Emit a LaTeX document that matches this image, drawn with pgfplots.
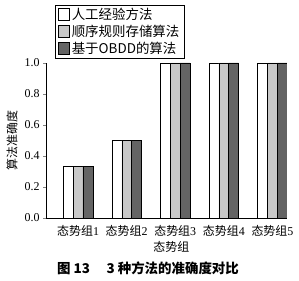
\documentclass[border=0pt]{standalone}
\usepackage{pgfplots}
\pgfplotsset{compat=1.18}
\usepackage{fontspec}
\setmainfont{Liberation Serif}
\newfontfamily\cjk{Noto Sans CJK SC}
\definecolor{lgray}{RGB}{200,200,200}
\definecolor{dgray}{RGB}{100,100,100}
\begin{document}
\begin{tikzpicture}
\useasboundingbox (-46bp,-63bp) rectangle (253bp,218bp);
\begin{axis}[
  at={(0,0)}, anchor=south west,
  scale only axis, width=241bp, height=155bp,
  ybar=0pt, bar width=9.8bp,
  xmin=-0.66, xmax=4.3, ymin=0, ymax=1.0,
  axis x line=bottom, axis y line=left,
  axis line style={-, line width=0.6pt},
  xtick=data, xticklabels={{\cjk 态势组}1,{\cjk 态势组}2,{\cjk 态势组}3,{\cjk 态势组}4,{\cjk 态势组}5},
  x tick style={draw=none},
  ytick={0,0.2,0.4,0.6,0.8,1.0},
  yticklabel style={/pgf/number format/.cd, fixed, fixed zerofill, precision=1},
  /pgf/number format/assume math mode=true,
  tick align=outside, major tick length=3bp,
  y tick style={line width=0.6pt},
  ticklabel style={font=\fontsize{12}{13}\selectfont},
  xticklabel style={yshift=-1bp},
  xlabel={\cjk 态势组}, ylabel={\cjk 算法准确度},
  label style={font=\fontsize{12}{13}\selectfont},
  xlabel style={at={([yshift=-29bp]axis description cs:0.52,0)}, anchor=center},
  ylabel style={at={([xshift=-34bp]axis description cs:0,0.5)}, anchor=center},
  legend style={at={(9bp,213bp)}, anchor=north west, draw=black, line width=0.6pt,
    font=\cjk\fontsize{13.5}{15}\selectfont, row sep=0bp, inner xsep=3bp, inner ysep=1bp,
    cells={anchor=west}},
  legend cell align=left,
  legend image code/.code={\draw[#1, line width=0.5pt] (0bp,-5.5bp) rectangle (11bp,6bp);},
  every axis plot/.append style={draw=black, line width=0.5pt},
]
\addplot[fill=white] coordinates {(0,0.333) (1,0.5) (2,1.0) (3,1.0) (4,1.0)};
\addplot[fill=lgray] coordinates {(0,0.333) (1,0.5) (2,1.0) (3,1.0) (4,1.0)};
\addplot[fill=dgray] coordinates {(0,0.333) (1,0.5) (2,1.0) (3,1.0) (4,1.0)};
\legend{人工经验方法,顺序规则存储算法,基于OBDD的算法}
\end{axis}
\node[font=\cjk\bfseries\fontsize{13.5}{15}\selectfont] at (102bp,-50bp) {图 13\quad\ 3 种方法的准确度对比};
\end{tikzpicture}
\end{document}
